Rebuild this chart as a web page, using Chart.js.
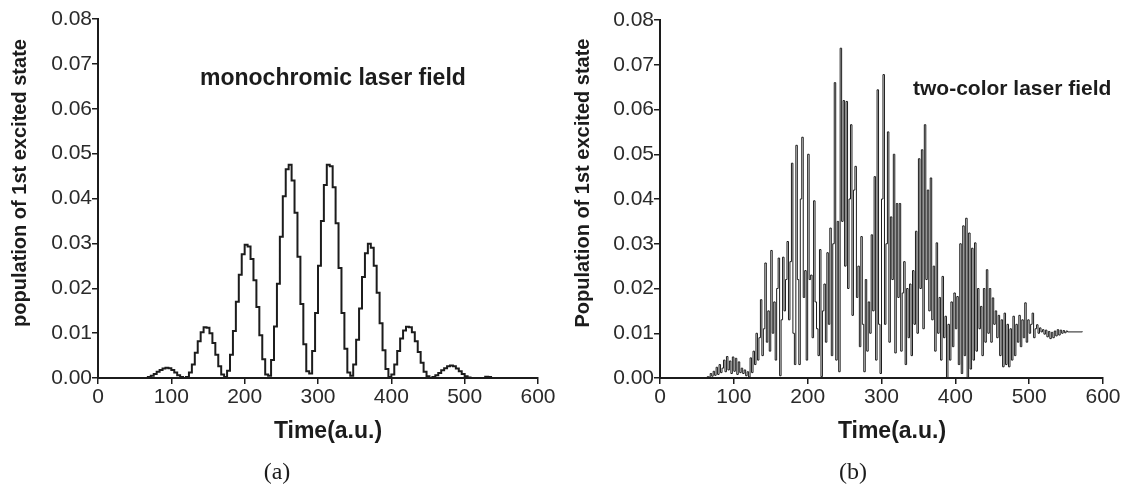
<!doctype html>
<html>
<head>
<meta charset="utf-8">
<title>Population of 1st excited state</title>
<script src="https://cdn.jsdelivr.net/npm/chart.js@4.4.1/dist/chart.umd.min.js"></script>
<style>
  body { margin: 0; background: #fff; }
  .wrap { position: relative; width: 1127px; height: 491px; }
  .panel { position: absolute; top: 0; height: 491px; }
</style>
</head>
<body>
<div class="wrap">
  <div class="panel" style="left:0;width:563px"><canvas id="chartA"></canvas></div>
  <div class="panel" style="left:563px;width:564px"><canvas id="chartB"></canvas></div>
</div>
<script>
// panel (a): monochromic laser field
const timeA = [60,64,68,72,76,80,84,88,92,96,100,104,108,112,116,120,124,128,132,136,140,144,148,152,156,160,164,168,172,176,180,184,188,192,196,200,204,208,212,216,220,224,228,232,236,240,244,248,252,256,260,264,268,272,276,280,284,288,292,296,300,304,308,312,316,320,324,328,332,336,340,344,348,352,356,360,364,368,372,376,380,384,388,392,396,400,404,408,412,416,420,424,428,432,436,440,444,448,452,456,460,464,468,472,476,480,484,488,492,496,500,504,508,524,528,532,536,540];
const popA = [0,0,0.0002,0.0005,0.0009,0.0014,0.0018,0.0021,0.0023,0.0022,0.0018,0.0012,0.0006,0.0002,0,0.0002,
  0.0012,0.0030,0.0056,0.0082,0.0102,0.0113,0.0112,0.0100,0.0078,0.0052,0.0026,0.0008,0.0002,
  0.0016,0.0052,0.0105,0.0170,0.0230,0.0276,0.0297,0.0293,0.0265,0.0218,0.0158,0.0095,0.0042,0.0008,
  0.0005,0.0040,0.0115,0.0210,0.0315,0.0405,0.0465,0.0475,0.0440,0.0368,0.0270,0.0165,0.0075,0.0015,
  0.0010,0.0060,0.0145,0.0250,0.0350,0.0430,0.0475,0.0472,0.0425,0.0345,0.0245,0.0145,0.0065,0.0012,
  0.0005,0.0030,0.0085,0.0155,0.0225,0.0278,0.0299,0.0290,0.0250,0.0190,0.0122,0.0062,0.0020,0.0002,
  0.0008,0.0030,0.0060,0.0088,0.0106,0.0114,0.0113,0.0102,0.0082,0.0058,0.0034,0.0014,0.0004,0,
  0.0002,0.0006,0.0011,0.0017,0.0022,0.0026,0.0028,0.0026,0.0021,0.0015,0.0009,0.0004,0.0001,0,
  0,0.0003,0.0002,0,0];

// panel (b): two-color laser field
const timeB = [60,64,66,68,70,72,74,76,78,80,82,84,86,88,90,92,94,96,98,100,102,104,106,108,110,112,114,116,118,120,
  122,124,126,128,130,132,134,136,138,140,142,144,146,148,150,152,154,156,158,160,162,164,166,168,170,172,174,176,178,180,
  182,184,186,188,190,192,194,196,198,200,202,204,206,208,210,212,214,216,218,220,222,224,226,228,230,232,234,236,238,240,
  242,244,246,248,250,252,254,256,258,260,262,264,266,268,270,272,274,276,278,280,282,284,286,288,290,292,294,296,298,300,
  302,304,306,308,310,312,314,316,318,320,322,324,326,328,330,332,334,336,338,340,342,344,346,348,350,352,354,356,358,360,
  362,364,366,368,370,372,374,376,378,380,382,384,386,388,390,392,394,396,398,400,402,404,406,408,410,412,414,416,418,420,
  422,424,426,428,430,432,434,436,438,440,442,444,446,448,450,452,454,456,458,460,462,464,466,468,470,472,474,476,478,480,
  482,484,486,488,490,492,494,496,498,500,502,504,506,508,510,512,514,516,518,520,522,524,526,528,530,532,534,536,538,540,
  542,544,546,548,550,552,572];
const popB = [0,0.0003,0.0002,0.0010,0.0004,0.0015,0.0006,0.0024,0.0008,0.0030,0.0012,0.0022,0.0040,0.0014,0.0048,0.0018,0.0038,0.0010,0.0047,0.0015,0.0044,0.0008,0.0036,0.0012,0.0022,0.0010,0.0018,0.0005,0.0014,0.0002,
  0.0045,0.0012,0.0060,0.0030,0.0100,0.0040,0.0090,0.0175,0.0050,0.0110,0.0257,0.0080,0.0150,0.0060,0.0285,0.0100,0.0170,0.0040,0.0200,0.0268,0.0005,0.0130,0.0270,0.0150,0.0220,0.0305,0.0130,0.0260,0.0480,0.0100,
  0.0030,0.0520,0.0220,0.0030,0.0400,0.0538,0.0180,0.0240,0.0040,0.0500,0.0220,0.0230,0.0090,0.0396,0.0170,0.0110,0.0050,0.0287,0.0003,0.0150,0.0210,0.0080,0.0280,0.0120,0.0335,0.0050,0.0300,0.0660,0.0040,0.0350,
  0.0014,0.0737,0.0350,0.0620,0.0250,0.0618,0.0200,0.0400,0.0566,0.0140,0.0420,0.0473,0.0180,0.0250,0.0070,0.0316,0.0120,0.0014,0.0220,0.0060,0.0170,0.0100,0.0320,0.0150,0.0450,0.0040,0.0644,0.0120,0.0010,0.0400,
  0.0678,0.0120,0.0300,0.0550,0.0080,0.0360,0.0220,0.0500,0.0056,0.0390,0.0180,0.0390,0.0060,0.0190,0.0260,0.0030,0.0200,0.0090,0.0210,0.0050,0.0240,0.0120,0.0328,0.0100,0.0490,0.0200,0.0510,0.0110,0.0566,0.0220,
  0.0420,0.0150,0.0447,0.0130,0.0250,0.0060,0.0302,0.0100,0.0180,0.0040,0.0227,0.0090,0.0138,0,0.0120,0.0040,0.0170,0.0070,0.0190,0.0110,0.0182,0.0030,0.0300,0.0010,0.0340,0.0050,0.0357,0,0.0324,0.0020,
  0.0290,0.0040,0.0302,0.0060,0.0200,0.0110,0.0160,0.0050,0.0200,0.0080,0.0242,0.0100,0.0200,0.0080,0.0179,0.0120,0.0150,0.0090,0.0140,0.0050,0.0130,0.0025,0.0145,0.0030,0.0120,0.0025,0.0110,0.0040,0.0138,0.0050,
  0.0120,0.0080,0.0140,0.0070,0.0130,0.0090,0.0168,0.0080,0.0130,0.0100,0.0120,0.0145,0.0090,0.0110,0.0119,0.0100,0.0112,0.0103,0.0108,0.0098,0.0107,0.0092,0.0104,0.0088,0.0102,0.0090,0.0105,0.0094,0.0108,0.0096,
  0.0107,0.0100,0.0106,0.0101,0.0105,0.0103,0.0104];

const xTicks = [0, 100, 200, 300, 400, 500, 600];
const yTicks = [0, 0.01, 0.02, 0.03, 0.04, 0.05, 0.06, 0.07, 0.08];

const sans = '"Liberation Sans", Arial, sans-serif';
const ink = '#1c1c1c';

function toPoints(xs, ys) {
  return xs.map(function (x, i) { return { x: x, y: ys[i] }; });
}

// draws axis titles, panel caption and the in-plot note
const panelText = {
  id: 'panelText',
  afterDraw: function (chart, args, o) {
    const ctx = chart.ctx;
    ctx.save();
    ctx.fillStyle = ink;
    ctx.textAlign = 'center';
    ctx.textBaseline = 'middle';
    ctx.font = 'bold 20px ' + sans;
    ctx.save();
    ctx.translate(o.yTitleX, 183);
    ctx.rotate(-Math.PI / 2);
    ctx.fillText(o.yTitle, 0, 0);
    ctx.restore();
    ctx.font = 'bold 23px ' + sans;
    ctx.fillText('Time(a.u.)', o.xTitleX, 432);
    ctx.textAlign = 'left';
    ctx.font = 'bold ' + o.noteSize + 'px ' + sans;
    ctx.fillText(o.note, o.noteX, o.noteY);
    ctx.textAlign = 'center';
    ctx.font = '24px "Liberation Serif", "DejaVu Serif", serif';
    ctx.fillText(o.caption, o.captionX, 473);
    ctx.restore();
  }
};

function makeChart(id, xs, ys, lineW, pad, text) {
  return new Chart(document.getElementById(id), {
    type: 'line',
    data: {
      datasets: [{
        data: toPoints(xs, ys),
        borderColor: ink,
        borderWidth: lineW,
        stepped: true,
        pointRadius: 0,
        fill: false
      }]
    },
    options: {
      responsive: true,
      maintainAspectRatio: false,
      animation: false,
      parsing: false,
      events: [],
      layout: { padding: pad },
      plugins: { legend: { display: false }, tooltip: { enabled: false }, panelText: text },
      scales: {
        x: {
          type: 'linear', min: 0, max: 600,
          afterBuildTicks: function (s) { s.ticks = xTicks.map(function (v) { return { value: v }; }); },
          afterFit: function (s) { s.height = 113; s.paddingLeft = 0; s.paddingRight = 0; },
          grid: { drawOnChartArea: false, drawTicks: true, tickLength: 6, color: ink, lineWidth: 1.5 },
          border: { display: true, color: ink, width: 2 },
          ticks: { color: '#2a2a2a', font: { family: sans, size: 21 }, padding: 1, maxRotation: 0 }
        },
        y: {
          type: 'linear', min: 0, max: 0.08,
          afterBuildTicks: function (s) { s.ticks = yTicks.map(function (v) { return { value: v }; }); },
          afterFit: function (s) { s.width = 97; s.paddingTop = 0; s.paddingBottom = 0; },
          grid: { drawOnChartArea: false, drawTicks: true, tickLength: 6, color: ink, lineWidth: 1.5 },
          border: { display: true, color: ink, width: 2 },
          ticks: {
            color: '#2a2a2a', font: { family: sans, size: 21 }, padding: 0,
            callback: function (v) { return v.toFixed(2); }
          }
        }
      }
    },
    plugins: [panelText]
  });
}

makeChart('chartA', timeA, popA, 2, { left: 1, right: 25, top: 19, bottom: 0 }, {
  yTitle: 'population of 1st excited state', yTitleX: 20,
  xTitleX: 328, note: 'monochromic laser field', noteSize: 23, noteX: 200, noteY: 79,
  caption: '(a)', captionX: 277
});

makeChart('chartB', timeB, popB, 1, { left: 0, right: 24, top: 20, bottom: 0 }, {
  yTitle: 'Population of 1st excited state', yTitleX: 20,
  xTitleX: 329, note: 'two-color laser field', noteSize: 21, noteX: 350, noteY: 89,
  caption: '(b)', captionX: 290
});
</script>
</body>
</html>
